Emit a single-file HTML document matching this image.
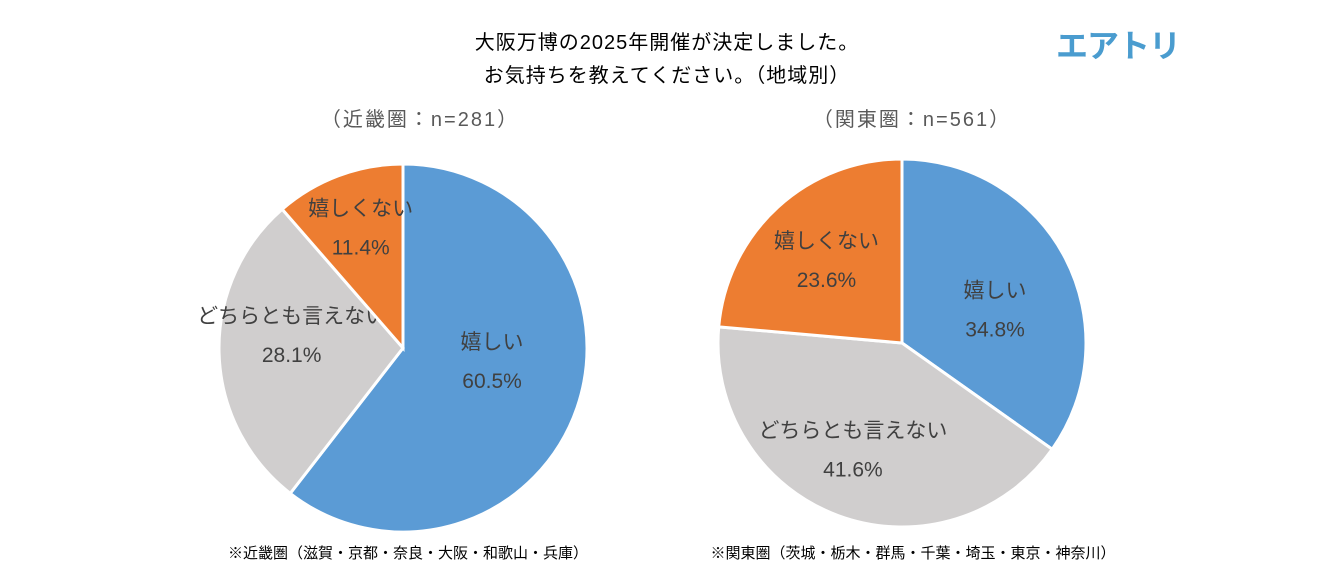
<!DOCTYPE html>
<html><head><meta charset="utf-8">
<style>
body{margin:0;width:1320px;height:574px;background:#fff;overflow:hidden;font-family:"Liberation Sans","Noto Sans CJK JP",sans-serif}
svg text{font-family:"Liberation Sans","Noto Sans CJK JP",sans-serif}
</style></head><body>
<svg id="c" width="1320" height="574">
<text x="667" y="49" font-size="20" letter-spacing="1" text-anchor="middle" fill="#000">大阪万博の2025年開催が決定しました。</text>
<text x="667" y="82" font-size="20" letter-spacing="1" text-anchor="middle" fill="#000">お気持ちを教えてください。（地域別）</text>
<text x="1118" y="57" font-size="32" font-weight="bold" text-anchor="middle" fill="#4a9ccf" letter-spacing="-1">エアトリ</text>
<text x="420" y="126" font-size="20" letter-spacing="2" text-anchor="middle" fill="#595959">（近畿圏：n=281）</text>
<text x="912" y="126" font-size="20" letter-spacing="2" text-anchor="middle" fill="#595959">（関東圏：n=561）</text>
<text x="408" y="558" font-size="15" text-anchor="middle" fill="#000">※近畿圏（滋賀・京都・奈良・大阪・和歌山・兵庫）</text>
<text x="913" y="558" font-size="15" text-anchor="middle" fill="#000">※関東圏（茨城・栃木・群馬・千葉・埼玉・東京・神奈川）</text>
<g id="pies"></g>
</svg>
<script>
const categories=["嬉しい","どちらとも言えない","嬉しくない"];
const kinkiValues=[60.5,28.1,11.4];
const kantoValues=[34.8,41.6,23.6];
const colors=["#5B9BD5","#D0CECE","#ED7D31"];
const ns="http://www.w3.org/2000/svg";
const g=document.getElementById('pies');
function pie(vals,cx,cy,r,labelPos,nudge){
  const tot=vals.reduce((a,b)=>a+b,0);let a0=0;
  vals.forEach((v,i)=>{
    const a1=a0+v/tot*2*Math.PI;
    const p=(a)=>[cx+r*Math.sin(a),cy-r*Math.cos(a)];
    const [x0,y0]=p(a0),[x1,y1]=p(a1);
    const path=document.createElementNS(ns,'path');
    path.setAttribute('d',`M${cx},${cy}L${x0},${y0}A${r},${r} 0 ${a1-a0>Math.PI?1:0} 1 ${x1},${y1}Z`);
    path.setAttribute('fill',colors[i]);path.setAttribute('stroke','#fff');path.setAttribute('stroke-width','3');
    
    
    g.appendChild(path);
    const mid=(a0+a1)/2,lr=r*labelPos[i];
    const lx=cx+lr*Math.sin(mid)+nudge[i][0],ly=cy-lr*Math.cos(mid)+nudge[i][1];
    [[categories[i],ly-12],[v.toFixed(1)+"%",ly+27]].forEach(([t,y])=>{
      const tx=document.createElementNS(ns,'text');
      tx.setAttribute('x',lx);tx.setAttribute('y',y);tx.setAttribute('font-size','21');
      tx.setAttribute('text-anchor','middle');tx.setAttribute('fill','#404040');
      tx.textContent=t;
      
      
      g.appendChild(tx);
    });
    a0=a1;
  });
}
pie(kinkiValues,403,348,184,[0.5,0.6,0.78],[[2,-17],[-1,-16],[8,14]]);
pie(kantoValues,902,343,184,[0.6,0.6,0.64],[[-5,17],[-11,3],[4,4]]);
</script>
</body></html>
